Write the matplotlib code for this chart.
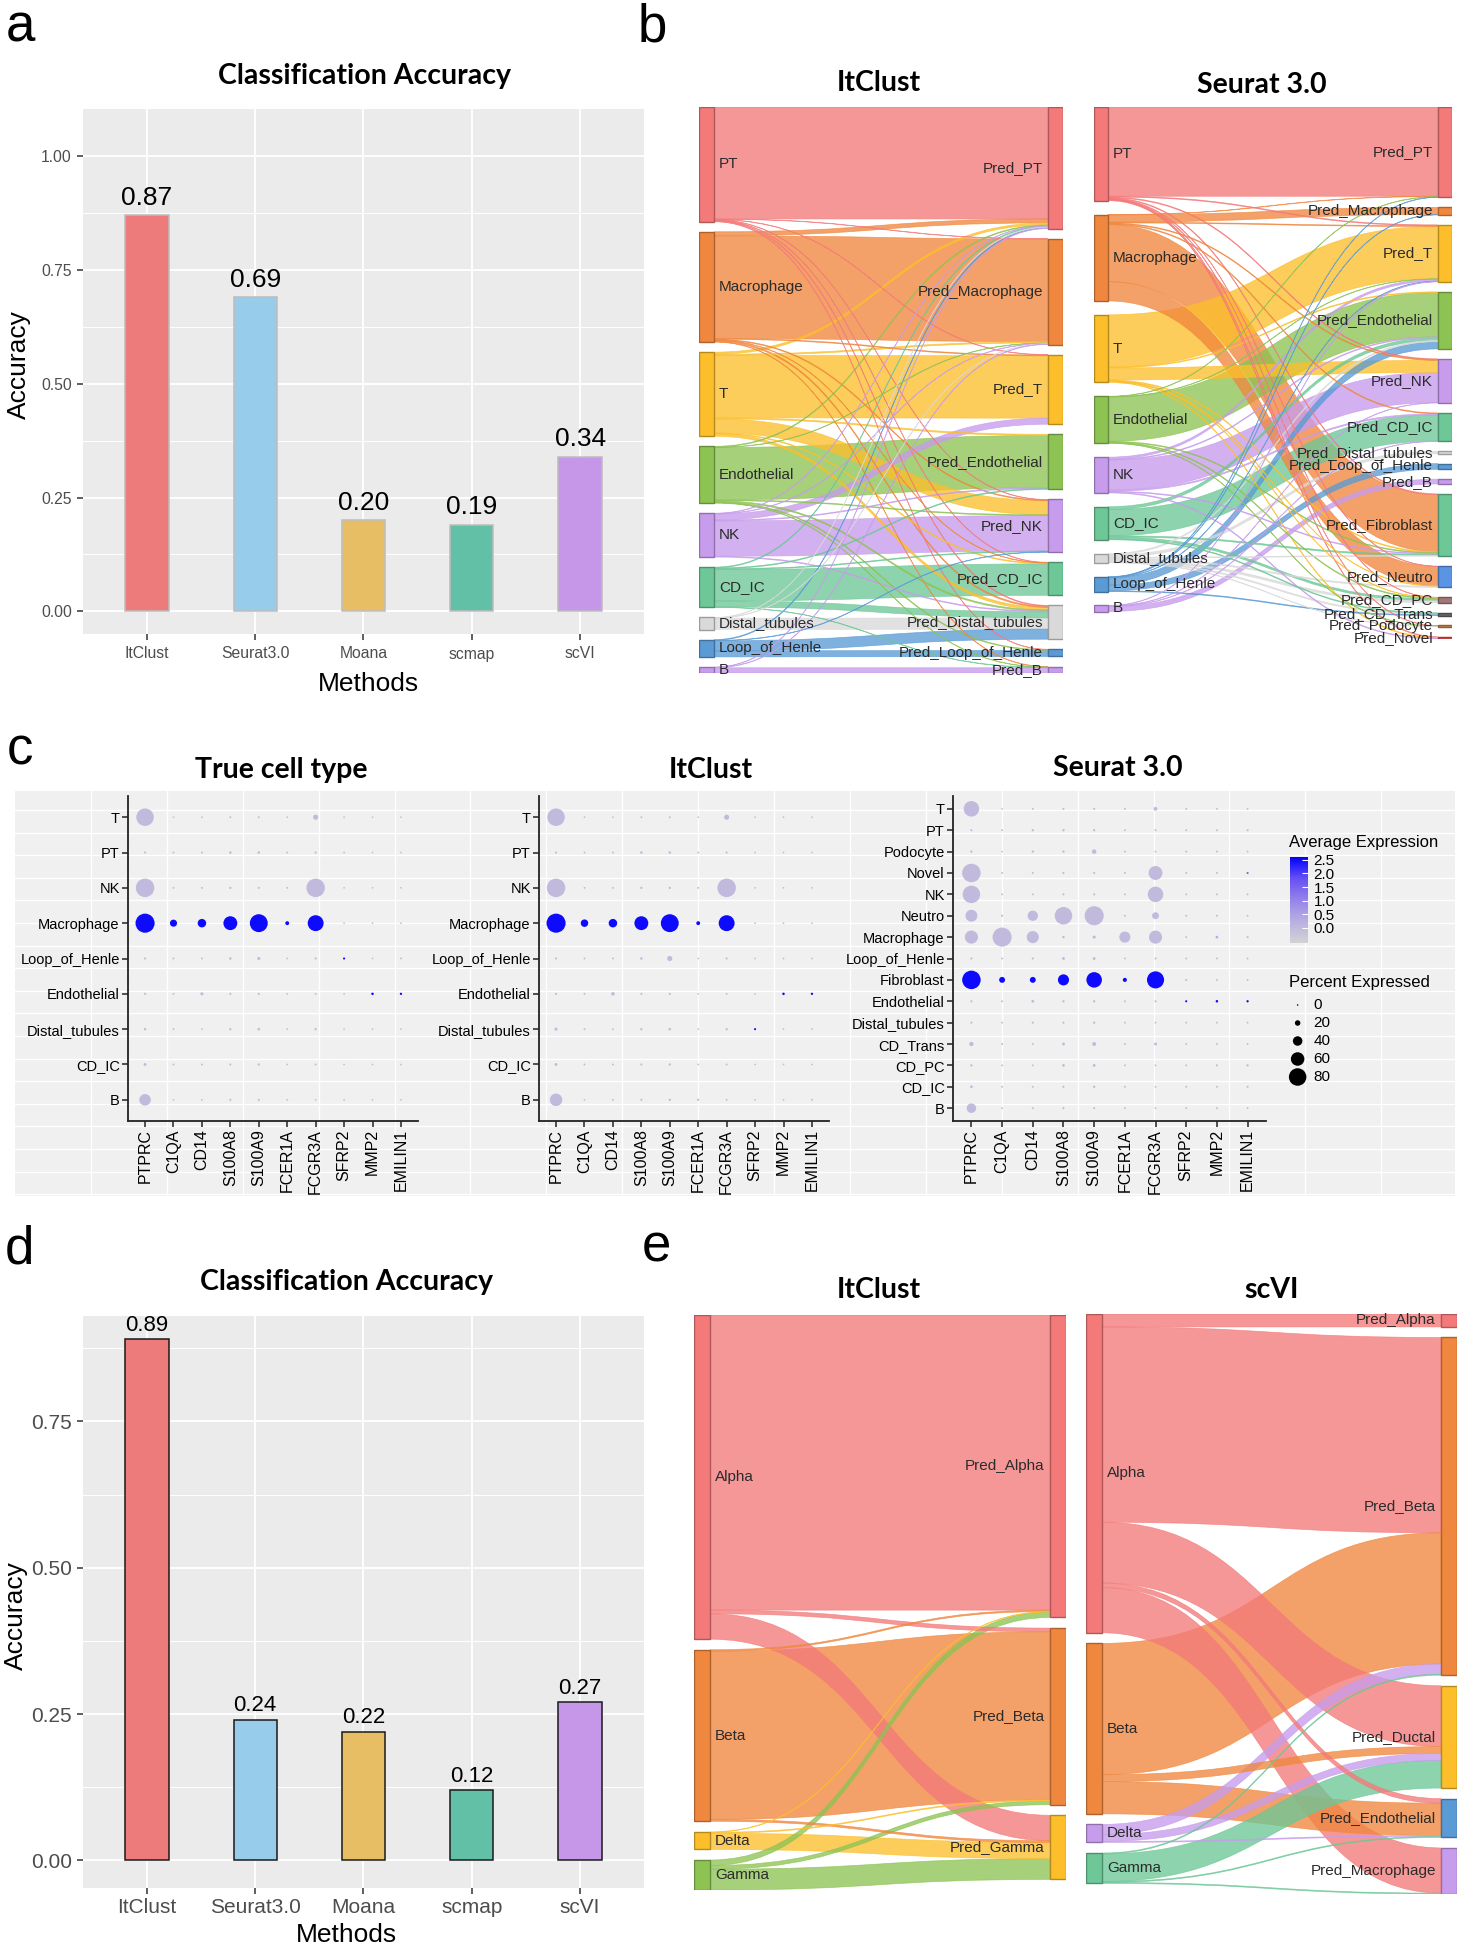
import numpy as np
import matplotlib
matplotlib.use("Agg")
import matplotlib.pyplot as plt
from matplotlib.path import Path
from matplotlib.patches import PathPatch, Rectangle
from matplotlib.colors import LinearSegmentedColormap, Normalize, to_rgb
from matplotlib.cm import ScalarMappable

plt.rcParams['font.family'] = ['Liberation Sans', 'DejaVu Sans']
TITLE_FONT = ['Lato', 'DejaVu Sans']
TITLE_FS = 20.5

W, H = 1461, 1950
fig = plt.figure(figsize=(W / 100, H / 100), dpi=100)
fig.patch.set_facecolor('white')


def px_axes(x0, y0, x1, y1):
    return fig.add_axes([x0 / W, 1 - y1 / H, (x1 - x0) / W, (y1 - y0) / H])


def ftext(x, y, s, **kw):
    return fig.text(x / W, 1 - y / H, s, **kw)

# ------------------------------------------------------------------ data
methods = ["ItClust", "Seurat3.0", "Moana", "scmap", "scVI"]
method_colors = ["#EE7B7B", "#97CCEA", "#E8BE65", "#62C0A6", "#C696E9"]
acc_kidney = [0.87, 0.69, 0.20, 0.19, 0.34]
acc_pancreas = [0.89, 0.24, 0.22, 0.12, 0.27]

# node colours
RED, ORANGE, YELLOW, GREEN = "#F47A7A", "#F0873E", "#FCBF2B", "#8DC353"
PURPLE, MINT, GREY, BLUE = "#C79CEC", "#6DC797", "#D9D9D9", "#5B9BD5"
BLUE2, BROWN, DGREY, BROWN2 = "#5C94E5", "#A07878", "#666666", "#C8864A"

kid_true = ["PT", "Macrophage", "T", "Endothelial", "NK", "CD_IC",
            "Distal_tubules", "Loop_of_Henle", "B"]
kid_true_colors = [RED, ORANGE, YELLOW, GREEN, PURPLE, MINT, GREY, BLUE, PURPLE]
kid_pred_itclust = ["Pred_PT", "Pred_Macrophage", "Pred_T", "Pred_Endothelial",
                    "Pred_NK", "Pred_CD_IC", "Pred_Distal_tubules",
                    "Pred_Loop_of_Henle", "Pred_B"]
kid_pred_itclust_colors = [RED, ORANGE, YELLOW, GREEN, PURPLE, MINT, GREY, BLUE, PURPLE]
itclust_kid_flows = [
    (0, 0, 278), (0, 1, 1), (0, 2, 1), (0, 4, 1), (0, 5, 1), (0, 6, 2), (0, 7, 1),
    (1, 0, 10), (1, 1, 255), (1, 2, 2), (1, 4, 2), (1, 5, 1), (1, 6, 3), (1, 8, 1),
    (2, 0, 5), (2, 1, 3), (2, 2, 155), (2, 3, 3), (2, 4, 35), (2, 5, 2), (2, 6, 6),
    (3, 0, 2), (3, 1, 1), (3, 3, 130), (3, 4, 2), (3, 6, 3), (3, 7, 2), (3, 8, 1),
    (4, 0, 1), (4, 1, 1), (4, 2, 15), (4, 3, 2), (4, 4, 88), (4, 6, 2),
    (5, 0, 2), (5, 3, 2), (5, 4, 2), (5, 5, 78), (5, 6, 15), (5, 8, 1),
    (6, 0, 1), (6, 1, 1), (6, 6, 28),
    (7, 0, 2), (7, 4, 1), (7, 6, 25), (7, 7, 15),
    (8, 0, 1), (8, 1, 1), (8, 8, 13),
]
kid_pred_seurat = ["Pred_PT", "Pred_Macrophage", "Pred_T", "Pred_Endothelial",
                   "Pred_NK", "Pred_CD_IC", "Pred_Distal_tubules",
                   "Pred_Loop_of_Henle", "Pred_B", "Pred_Fibroblast", "Pred_Neutro",
                   "Pred_CD_PC", "Pred_CD_Trans", "Pred_Podocyte", "Pred_Novel"]
kid_pred_seurat_colors = [RED, ORANGE, YELLOW, GREEN, PURPLE, MINT, GREY, BLUE,
                          PURPLE, MINT, BLUE2, BROWN, DGREY, BROWN2, "#E04848"]
seurat_kid_flows = [
    (0, 0, 222), (0, 2, 2), (0, 4, 2), (0, 9, 2), (0, 10, 1), (0, 11, 1), (0, 13, 1), (0, 14, 2),
    (1, 0, 1), (1, 1, 18), (1, 2, 2), (1, 4, 2), (1, 5, 2), (1, 9, 142), (1, 10, 48),
    (2, 2, 130), (2, 3, 2), (2, 4, 30), (2, 9, 2), (2, 10, 1), (2, 11, 1), (2, 14, 2),
    (3, 0, 1), (3, 2, 1), (3, 3, 110), (3, 9, 2), (3, 11, 2), (3, 13, 1),
    (4, 2, 5), (4, 3, 2), (4, 4, 75), (4, 5, 3), (4, 9, 2), (4, 14, 2),
    (5, 3, 7), (5, 5, 65), (5, 9, 3), (5, 11, 5), (5, 12, 2),
    (6, 3, 3), (6, 6, 6), (6, 9, 2), (6, 10, 3), (6, 11, 5), (6, 12, 3), (6, 13, 1),
    (7, 0, 1), (7, 1, 1), (7, 2, 1), (7, 3, 18), (7, 7, 14), (7, 12, 2),
    (8, 2, 1), (8, 4, 1), (8, 5, 1), (8, 8, 12),
]

pan_true = ["Alpha", "Beta", "Delta", "Gamma"]
pan_true_itclust_colors = [RED, ORANGE, YELLOW, GREEN]
pan_pred_itclust = ["Pred_Alpha", "Pred_Beta", "Pred_Gamma"]
pan_pred_itclust_colors = [RED, ORANGE, YELLOW]
itclust_pan_flows = [
    (0, 0, 640), (0, 1, 8), (0, 2, 55),
    (1, 0, 3), (1, 1, 365), (1, 2, 4),
    (2, 0, 1), (2, 1, 2), (2, 2, 35),
    (3, 0, 12), (3, 1, 8), (3, 2, 45),
]
pan_true_scvi_colors = [RED, ORANGE, PURPLE, MINT]
pan_pred_scvi = ["Pred_Alpha", "Pred_Beta", "Pred_Ductal", "Pred_Endothelial",
                 "Pred_Macrophage"]
pan_pred_scvi_colors = [RED, ORANGE, YELLOW, BLUE, PURPLE]
scvi_pan_flows = [
    (0, 0, 28), (0, 1, 424), (0, 2, 132), (0, 3, 10), (0, 4, 98),
    (1, 1, 285), (1, 2, 15), (1, 3, 70),
    (2, 1, 22), (2, 2, 15), (2, 3, 2),
    (3, 1, 2), (3, 2, 60), (3, 3, 2), (3, 4, 2),
]

genes = ["PTPRC", "C1QA", "CD14", "S100A8", "S100A9", "FCER1A", "FCGR3A",
         "SFRP2", "MMP2", "EMILIN1"]
dot_rows_9 = ["T", "PT", "NK", "Macrophage", "Loop_of_Henle", "Endothelial",
              "Distal_tubules", "CD_IC", "B"]
true_pct = [
    [80, 1, 1, 2, 2, 1, 18, 1, 1, 1],
    [3, 2, 2, 5, 5, 2, 3, 1, 1, 1],
    [85, 2, 2, 4, 3, 2, 85, 1, 1, 1],
    [88, 28, 35, 62, 82, 12, 72, 1, 1, 1],
    [3, 2, 2, 5, 8, 1, 3, 3, 1, 2],
    [3, 2, 8, 3, 3, 1, 2, 1, 5, 4],
    [5, 2, 1, 4, 6, 1, 4, 1, 1, 1],
    [7, 2, 2, 3, 4, 1, 2, 1, 1, 1],
    [50, 1, 1, 3, 3, 1, 1, 1, 1, 1],
]
true_exp = [
    [0, 0, 0, 0, 0, 0, 0, 0, 0, 0],
    [0, 0, 0, 0, 0, 0, 0, 0, 0, 0],
    [0, 0, 0, 0, 0, 0, 0, 0, 0, 0],
    [2.5, 2.5, 2.5, 2.5, 2.5, 2.5, 2.5, 0, 0, 0],
    [0, 0, 0, 0, 0, 0, 0, 2.5, 0, 0],
    [0, 0, 0, 0, 0, 0, 0, 0, 2.5, 2.5],
    [0, 0, 0, 0, 0, 0, 0, 0, 0, 0],
    [0, 0, 0, 0, 0, 0, 0, 0, 0, 0],
    [0, 0, 0, 0, 0, 0, 0, 0, 0, 0],
]
itclust_pct = [
    [80, 1, 1, 2, 2, 1, 18, 1, 1, 1],
    [3, 2, 2, 5, 5, 2, 3, 1, 1, 1],
    [85, 2, 2, 4, 4, 2, 85, 1, 1, 1],
    [88, 30, 35, 62, 82, 12, 72, 1, 1, 1],
    [3, 2, 2, 5, 18, 1, 3, 1, 1, 1],
    [3, 2, 10, 3, 3, 1, 2, 1, 5, 4],
    [8, 2, 2, 4, 5, 1, 4, 3, 1, 1],
    [7, 2, 2, 3, 4, 1, 2, 1, 1, 1],
    [55, 1, 2, 3, 4, 4, 2, 1, 1, 2],
]
itclust_exp = [
    [0, 0, 0, 0, 0, 0, 0, 0, 0, 0],
    [0, 0, 0, 0, 0, 0, 0, 0, 0, 0],
    [0, 0, 0, 0, 0, 0, 0, 0, 0, 0],
    [2.5, 2.5, 2.5, 2.5, 2.5, 2.5, 2.5, 0, 0, 0],
    [0, 0, 0, 0, 0, 0, 0, 0, 0, 0],
    [0, 0, 0, 0, 0, 0, 0, 0, 2.5, 2.5],
    [0, 0, 0, 0, 0, 0, 0, 2.5, 0, 0],
    [0, 0, 0, 0, 0, 0, 0, 0, 0, 0],
    [0, 0, 0, 0, 0, 0, 0, 0, 0, 0],
]
dot_rows_15 = ["T", "PT", "Podocyte", "Novel", "NK", "Neutro", "Macrophage",
               "Loop_of_Henle", "Fibroblast", "Endothelial", "Distal_tubules",
               "CD_Trans", "CD_PC", "CD_IC", "B"]
seurat_pct = [
    [70, 1, 2, 3, 3, 2, 12, 2, 2, 2],
    [3, 2, 4, 4, 4, 2, 3, 2, 2, 3],
    [4, 1, 4, 4, 15, 2, 2, 2, 2, 2],
    [85, 2, 2, 3, 3, 2, 62, 2, 2, 3],
    [80, 2, 2, 3, 3, 2, 70, 2, 2, 2],
    [52, 3, 44, 80, 88, 2, 27, 2, 2, 2],
    [58, 88, 53, 5, 8, 48, 58, 2, 6, 3],
    [3, 2, 3, 7, 7, 2, 3, 2, 2, 2],
    [85, 22, 22, 48, 70, 13, 78, 3, 2, 2],
    [3, 2, 7, 4, 4, 2, 3, 3, 5, 4],
    [3, 2, 3, 3, 4, 2, 2, 2, 2, 2],
    [14, 2, 2, 7, 12, 2, 7, 2, 2, 2],
    [4, 2, 2, 6, 7, 2, 2, 2, 3, 4],
    [6, 2, 2, 3, 4, 2, 2, 2, 2, 3],
    [40, 2, 2, 3, 3, 2, 2, 2, 2, 2],
]
seurat_exp = [
    [0, 0, 0, 0, 0, 0, 0, 0, 0, 0],
    [0, 0, 0, 0, 0, 0, 0, 0, 0, 0],
    [0, 0, 0, 0, 0, 0, 0, 0, 0, 0],
    [0, 0, 0, 0, 0, 0, 0, 0, 0, 1.5],
    [0, 0, 0, 0, 0, 0, 0, 0, 0, 0],
    [0, 0, 0, 0, 0, 0, 0, 0, 0, 0],
    [0, 0, 0, 0, 0, 0, 0, 0, 0.3, 0],
    [0, 0, 0, 0, 0, 0, 0, 0, 0, 0],
    [2.5, 2.5, 2.5, 2.5, 2.5, 2.5, 2.5, 0, 0, 0],
    [0, 0, 0, 0, 0, 0, 0, 2.5, 2.5, 2.5],
    [0, 0, 0, 0, 0, 0, 0, 0, 0, 0],
    [0, 0, 0, 0, 0, 0, 0, 0, 0, 0],
    [0, 0, 0, 0, 0, 0, 0, 0, 0, 0],
    [0, 0, 0, 0, 0, 0, 0, 0, 0, 0],
    [0, 0, 0, 0, 0, 0, 0, 0, 0, 0],
]
exp_ticks = [0.0, 0.5, 1.0, 1.5, 2.0, 2.5]
pct_legend = [0, 20, 40, 60, 80]

# ------------------------------------------------------------------ helpers
def bar_panel(rect, vals, ylim, yticks, edge, val_fs, tick_fs, lab_off, xpad, ypad):
    ax = px_axes(*rect)
    ax.set_facecolor('#EBEBEB')
    x = np.arange(1, len(methods) + 1)
    ax.set_xlim(0.41, len(methods) + 0.59)
    ax.set_ylim(*ylim)
    minors = [(a + b) / 2 for a, b in zip(yticks[:-1], yticks[1:])]
    step = yticks[1] - yticks[0]
    if yticks[-1] + step / 2 < ylim[1]:
        minors.append(yticks[-1] + step / 2)
    for m in minors:
        ax.axhline(m, color='white', lw=0.7, zorder=0)
    ax.set_yticks(yticks)
    ax.set_yticklabels([f"{t:.2f}" for t in yticks])
    ax.set_xticks(x)
    ax.set_xticklabels(methods)
    ax.grid(True, color='white', lw=1.3, zorder=0)
    ax.set_axisbelow(True)
    ax.bar(x, vals, 0.4, color=method_colors, edgecolor=edge, lw=1.1, zorder=3)
    for xi, v in zip(x, vals):
        ax.text(xi, v + lab_off, f"{v:.2f}", ha='center', va='bottom',
                fontsize=val_fs, color='black', zorder=4)
    for s in ax.spines.values():
        s.set_visible(False)
    ax.tick_params(length=4, width=1.1, color='#333333', labelcolor='#4D4D4D',
                   labelsize=tick_fs)
    ax.tick_params(axis='x', pad=xpad)
    ax.tick_params(axis='y', pad=ypad)
    return ax


def draw_sankey(rect, left_names, right_names, flows, left_cols, right_cols,
                gap_l, gap_r, node_px, fs=11):
    ax = px_axes(*rect)
    ax.axis('off')
    node_w = node_px / (rect[2] - rect[0])
    nl, nr = len(left_names), len(right_names)
    lsum = np.zeros(nl)
    rsum = np.zeros(nr)
    for s, t, v in flows:
        lsum[s] += v
        rsum[t] += v
    ltop = np.concatenate([[0], np.cumsum(lsum + gap_l)[:-1]])
    rtop = np.concatenate([[0], np.cumsum(rsum + gap_r)[:-1]])
    ytot = max(ltop[-1] + lsum[-1], rtop[-1] + rsum[-1])
    lout, rin = {}, {}
    cur = ltop.copy()
    for s, t, v in sorted(flows, key=lambda f: (f[0], f[1])):
        lout[(s, t)] = cur[s]
        cur[s] += v
    cur = rtop.copy()
    for s, t, v in sorted(flows, key=lambda f: (f[1], f[0])):
        rin[(s, t)] = cur[t]
        cur[t] += v
    x0, x1 = node_w, 1 - node_w
    xm = (x0 + x1) / 2
    codes = [Path.MOVETO, Path.CURVE4, Path.CURVE4, Path.CURVE4, Path.LINETO,
             Path.CURVE4, Path.CURVE4, Path.CURVE4, Path.CLOSEPOLY]
    for s, t, v in sorted(flows, key=lambda f: -f[2]):
        y0, y1 = lout[(s, t)], rin[(s, t)]
        verts = [(x0, y0), (xm, y0), (xm, y1), (x1, y1), (x1, y1 + v),
                 (xm, y1 + v), (xm, y0 + v), (x0, y0 + v), (x0, y0)]
        ax.add_patch(PathPatch(Path(verts, codes), facecolor=left_cols[s],
                               edgecolor=left_cols[s], lw=0.5, alpha=0.78))
    for i in range(nl):
        c = np.array(to_rgb(left_cols[i]))
        ax.add_patch(Rectangle((0, ltop[i]), node_w, lsum[i], facecolor=c,
                               edgecolor=c * 0.72, lw=1.0, zorder=5))
        ax.text(node_w + 0.014, ltop[i] + lsum[i] / 2, left_names[i], ha='left',
                va='center', fontsize=fs, color='#2B2B2B', zorder=6)
    for j in range(nr):
        c = np.array(to_rgb(right_cols[j]))
        ax.add_patch(Rectangle((1 - node_w, rtop[j]), node_w, rsum[j], facecolor=c,
                               edgecolor=c * 0.72, lw=1.0, zorder=5))
        ax.text(1 - node_w - 0.014, rtop[j] + rsum[j] / 2, right_names[j], ha='right',
                va='center', fontsize=fs, color='#2B2B2B', zorder=6)
    ax.set_xlim(0, 1)
    ax.set_ylim(ytot, 0)
    return ax


exp_cmap = LinearSegmentedColormap.from_list(
    'lgblue', ["#D3D3D3", "#B9AFE2", "#9683EA", "#6650F3", "#0000FF"])
exp_norm = Normalize(-0.55, 2.6)


def pct_to_size(p):
    d = 1.5 + 0.2 * np.asarray(p, dtype=float)   # diameter in px
    return (d * 0.72) ** 2


def dot_panel(rect, rows, pct, exp):
    ax = px_axes(*rect)
    ax.set_facecolor('none')
    nr, ng = len(rows), len(genes)
    xx, yy = np.meshgrid(np.arange(ng), np.arange(nr))
    ax.scatter(xx.ravel(), yy.ravel(), s=pct_to_size(np.array(pct).ravel()),
               c=np.array(exp, dtype=float).ravel(), cmap=exp_cmap, norm=exp_norm,
               edgecolors='none', zorder=3)
    ax.set_xlim(-0.6, ng - 0.4)
    ax.set_ylim(nr - 0.4, -0.6)
    ax.set_xticks(range(ng))
    ax.set_xticklabels(genes, rotation=90, fontsize=11.5)
    ax.set_yticks(range(nr))
    ax.set_yticklabels(rows, fontsize=10.5)
    for side in ['top', 'right']:
        ax.spines[side].set_visible(False)
    for side in ['left', 'bottom']:
        ax.spines[side].set_linewidth(1.3)
        ax.spines[side].set_color('#222222')
    ax.tick_params(length=4, width=1.1, color='#222222', labelcolor='black', pad=2)
    return ax

# ------------------------------------------------------------------ panel a
bar_panel((83, 109, 644, 634), acc_kidney, (-0.05, 1.104), [0, 0.25, 0.5, 0.75, 1.0],
          '#BDBDBD', 19, 11.3, 0.012, 5, 4)
ftext(364, 76, "Classification Accuracy", ha='center', va='center', fontsize=TITLE_FS,
      fontweight='bold', family=TITLE_FONT)
ftext(368, 684, "Methods", ha='center', va='center', fontsize=19)
ftext(19, 365, "Accuracy", ha='center', va='center', fontsize=19, rotation=90)

# ------------------------------------------------------------------ panel d
bar_panel((83, 1316, 644, 1888), acc_pancreas, (-0.047, 0.93), [0, 0.25, 0.5, 0.75],
          '#1A1A1A', 16, 15, 0.006, 3, 4)
ftext(346, 1282, "Classification Accuracy", ha='center', va='center', fontsize=TITLE_FS,
      fontweight='bold', family=TITLE_FONT)
ftext(346, 1935, "Methods", ha='center', va='center', fontsize=19)
ftext(16, 1616, "Accuracy", ha='center', va='center', fontsize=19, rotation=90)

# ------------------------------------------------------------------ panel b
draw_sankey((699, 107, 1063, 673), kid_true, kid_pred_itclust, itclust_kid_flows,
            kid_true_colors, kid_pred_itclust_colors, 25, 25, 15)
ftext(879, 83, "ItClust", ha='center', va='center', fontsize=TITLE_FS, fontweight='bold',
      family=TITLE_FONT)
draw_sankey((1094, 107, 1452, 639), kid_true, kid_pred_seurat, seurat_kid_flows,
            kid_true_colors, kid_pred_seurat_colors, 34.5, 24.6, 14)
ftext(1262, 85, "Seurat 3.0", ha='center', va='center', fontsize=TITLE_FS, fontweight='bold',
      family=TITLE_FONT)

# ------------------------------------------------------------------ panel e
draw_sankey((694, 1315, 1066, 1890), pan_true, pan_pred_itclust, itclust_pan_flows,
            pan_true_itclust_colors, pan_pred_itclust_colors, 23, 23, 16)
ftext(879, 1290, "ItClust", ha='center', va='center', fontsize=TITLE_FS, fontweight='bold',
      family=TITLE_FONT)
draw_sankey((1086, 1314, 1457, 1894), pan_true, pan_pred_scvi, scvi_pan_flows,
            pan_true_scvi_colors, pan_pred_scvi_colors, 23, 23, 16)
ftext(1271, 1290, "scVI", ha='center', va='center', fontsize=TITLE_FS, fontweight='bold',
      family=TITLE_FONT)

# ------------------------------------------------------------------ panel c
bg = px_axes(15, 791, 1455, 1196)
bg.set_zorder(-5)
bg.set_facecolor('#F0F0F0')
bg.set_xlim(0, 1440)
bg.set_ylim(405, 0)
bg.set_xticks(np.arange(75.9, 1440, 75.9))
bg.set_yticks(np.arange(19, 405, 22.6))
bg.grid(True, color='white', lw=1.0)
bg.tick_params(length=0, labelbottom=False, labelleft=False)
for s in bg.spines.values():
    s.set_visible(False)

dot_panel((128, 796, 418, 1121), dot_rows_9, true_pct, true_exp)
ftext(281, 770, "True cell type", ha='center', va='center', fontsize=TITLE_FS,
      fontweight='bold', family=TITLE_FONT)
dot_panel((539, 796, 829, 1121), dot_rows_9, itclust_pct, itclust_exp)
ftext(711, 770, "ItClust", ha='center', va='center', fontsize=TITLE_FS,
      fontweight='bold', family=TITLE_FONT)
dot_panel((953, 796, 1266, 1121), dot_rows_15, seurat_pct, seurat_exp)
ftext(1118, 768, "Seurat 3.0", ha='center', va='center', fontsize=TITLE_FS,
      fontweight='bold', family=TITLE_FONT)

# legends
ftext(1289, 842, "Average Expression", ha='left', va='center', fontsize=12)
cax = px_axes(1290, 857, 1308, 943)
cb = fig.colorbar(ScalarMappable(norm=exp_norm, cmap=exp_cmap), cax=cax,
                  ticks=exp_ticks)
cb.outline.set_visible(False)
cb.ax.set_yticklabels([f"{t:.1f}" for t in exp_ticks])
cb.ax.tick_params(length=4, width=0.8, color='white', direction='in',
                  labelsize=11, pad=4)

ftext(1289, 982, "Percent Expressed", ha='left', va='center', fontsize=12)
lax = px_axes(1285, 996, 1345, 1086)
lax.set_facecolor('none')
lax.axis('off')
ly = np.arange(len(pct_legend))
lax.scatter(np.zeros(len(pct_legend)), ly, s=pct_to_size(pct_legend), c='black',
            edgecolors='none')
for yv, p in zip(ly, pct_legend):
    lax.text(1.0, yv, str(p), ha='left', va='center', fontsize=11)
lax.set_xlim(-0.8, 3)
lax.set_ylim(len(pct_legend) - 0.5, -0.5)

# ------------------------------------------------------------------ panel letters
for lab, x, y in [("a", 6, 41), ("b", 638, 41), ("c", 7, 765), ("d", 5, 1264),
                  ("e", 642, 1262)]:
    ftext(x, y, lab, ha='left', va='baseline', fontsize=38)

fig.savefig("out.png", dpi=100, facecolor='white')
